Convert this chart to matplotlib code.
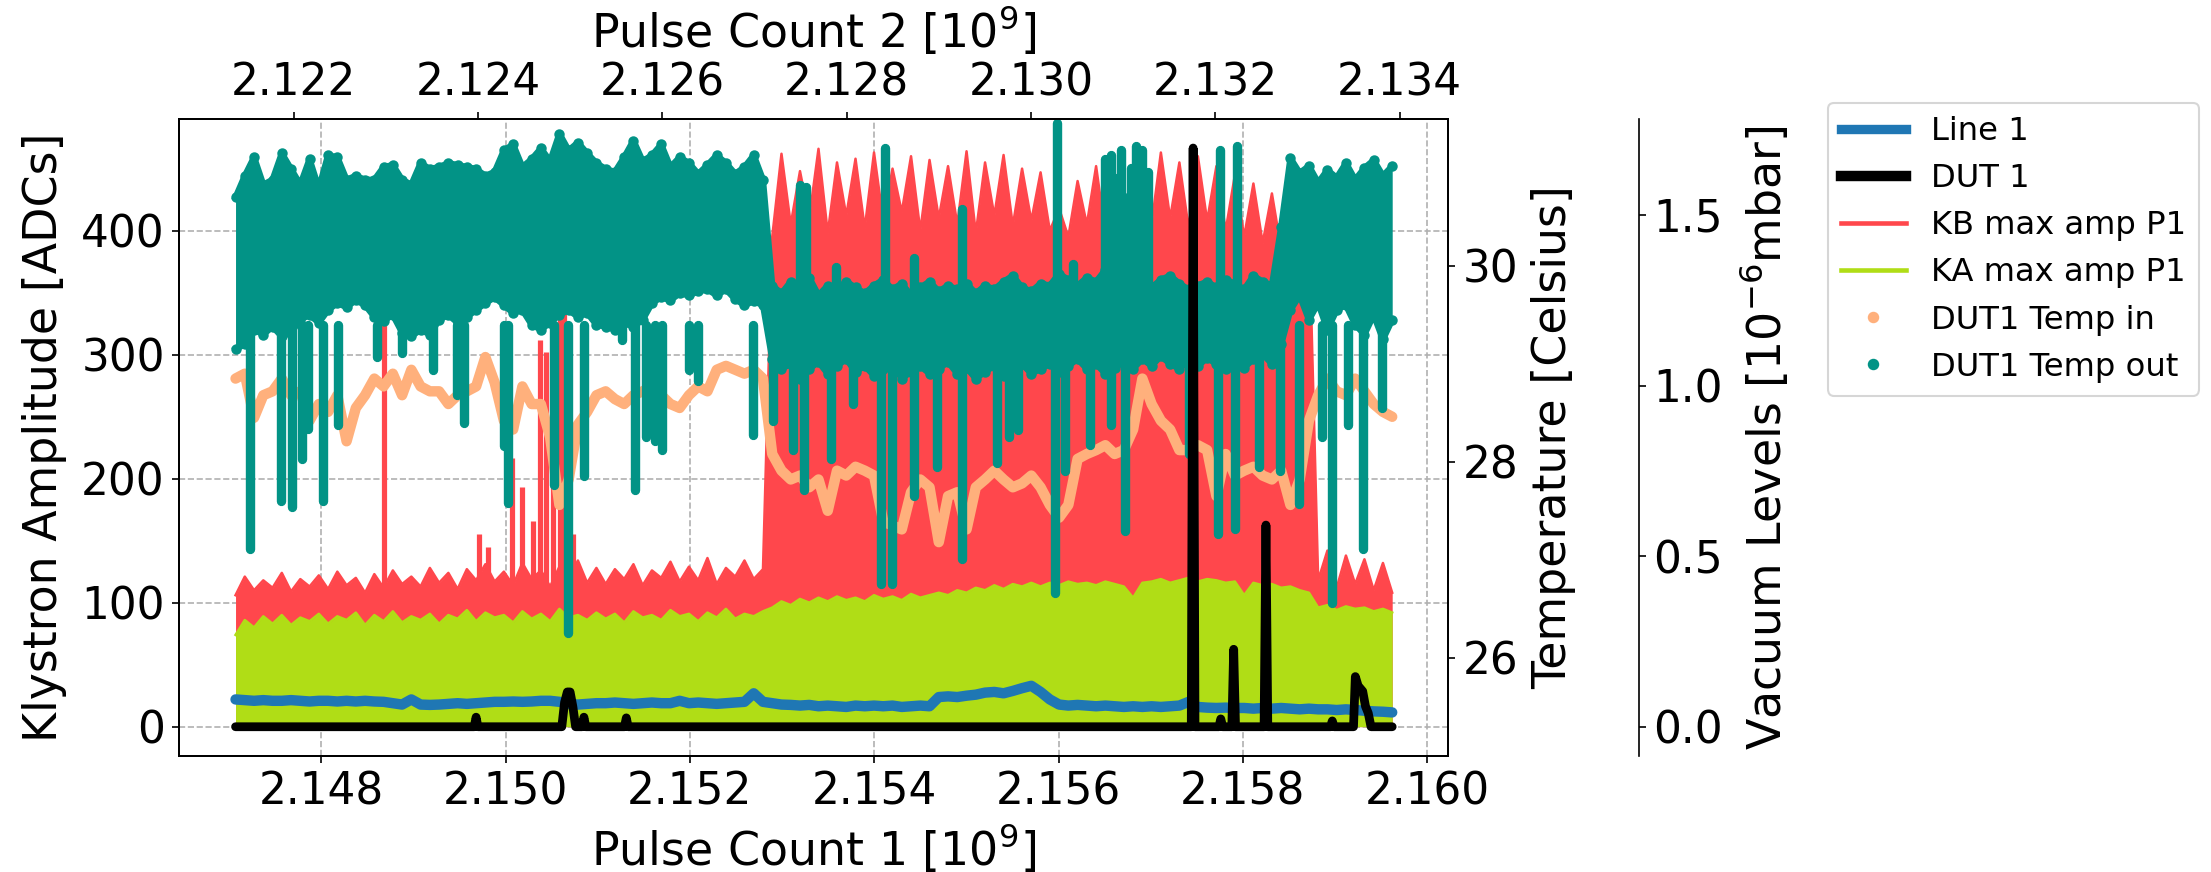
import numpy as np
import matplotlib
matplotlib.use("Agg")
import matplotlib.pyplot as plt
from matplotlib.lines import Line2D
from matplotlib.ticker import MultipleLocator, FormatStrFormatter

# pulse count 1 range of the run [1e9], samples are evenly spread over it
pulse_start, pulse_end = 2.14707, 2.15962
pulse2_offset = 0.0257  # pulse count 2 = pulse count 1 - offset

# KB max amp P1 (upper envelope) [ADCs]
kb_top = [106, 121, 110, 118, 112, 124, 109, 119, 113, 122,
          111, 125, 114, 120, 108, 123, 112, 126, 115, 121,
          113, 128, 116, 124, 111, 127, 118, 131, 117, 125,
          114, 132, 119, 126, 113, 129, 118, 134, 116, 128,
          115, 127, 119, 131, 114, 126, 120, 133, 117, 129,
          118, 136, 115, 128, 121, 134, 119, 127,
          395, 462, 405, 448, 410, 466, 398, 455, 412,
          458, 402, 463, 408, 450, 415, 460, 400, 457, 410,
          452, 405, 464, 398, 455, 412, 461, 404, 450, 408,
          447, 400, 418, 395, 440, 405, 452, 398, 445, 402,
          412, 458, 405, 463, 410, 455, 402, 460, 408, 452,
          400, 445, 395, 438, 390, 430, 385, 420, 375, 405,
          118, 142, 112, 138, 115, 135, 110, 132, 108]
kb_spike_x = [2.148686, 2.149717, 2.149814, 2.150065, 2.150175, 2.150296,
              2.150369, 2.150441, 2.150513, 2.150586, 2.150635, 2.150731]
kb_spike_v = [325, 155, 145, 217, 193, 166, 312, 302, 359, 444, 369, 155]

# KA max amp P1 (upper envelope) [ADCs]
ka_top = [74, 86, 80, 89, 83, 90, 82, 88, 85, 91,
          83, 89, 86, 92, 82, 90, 85, 93, 84, 89,
          86, 91, 83, 90, 87, 94, 85, 92, 88, 90,
          84, 93, 87, 91, 85, 95, 88, 90, 86, 92,
          87, 91, 84, 93, 88, 90, 86, 94, 89, 91,
          85, 92, 88, 95, 87, 91, 89, 93,
          96, 101, 98, 103, 100, 104, 101, 105, 102,
          104, 101, 106, 103, 105, 102, 107, 104, 106, 108,
          106, 110, 108, 112, 110, 114, 111, 115, 113, 116,
          113, 116, 114, 117, 115, 116, 114, 117, 115, 113,
          104, 116, 117, 119, 116, 118, 120, 117, 119, 118,
          116, 117, 106, 116, 114, 115, 112, 113, 110, 108,
          96, 98, 94, 97, 95, 96, 93, 95, 92]

# DUT1 Temp in [Celsius]
temp_in = [28.85, 28.90, 28.45, 28.68, 28.72, 28.85, 28.68, 28.72, 28.42, 28.59,
           28.51, 28.68, 28.21, 28.55, 28.68, 28.85, 28.77, 28.90, 28.68, 28.94,
           28.77, 28.72, 28.72, 28.59, 28.68, 28.72, 28.77, 29.07, 28.81, 28.42,
           28.33, 28.77, 28.59, 28.59, 28.25, 27.56, 27.82, 28.38, 28.51, 28.68,
           28.72, 28.64, 28.59, 28.68, 28.72, 28.77, 28.68, 28.59, 28.55, 28.68,
           28.77, 28.72, 28.94, 28.98, 28.94, 28.90, 28.94, 28.85, 28.08, 27.91,
           27.82, 27.86, 27.74, 27.82, 27.50, 27.91, 27.86, 27.95, 27.91, 27.86,
           27.39, 27.35, 27.31, 27.69, 27.82, 27.74, 27.18, 27.65, 27.69, 27.31,
           27.74, 27.82, 27.91, 27.82, 27.74, 27.78, 27.86, 27.74, 27.56, 27.43,
           27.56, 28.03, 28.08, 28.12, 28.17, 28.08, 28.12, 28.33, 28.85, 28.59,
           28.42, 28.33, 28.12, 28.12, 28.17, 28.12, 27.65, 28.08, 27.86, 27.91,
           27.95, 27.86, 27.82, 27.91, 27.56, 27.82, 28.42, 28.68, 28.85, 28.72,
           28.68, 28.85, 28.72, 28.59, 28.51, 28.46]

# DUT1 Temp out: upper / lower edge of the dense band [Celsius]
temp_out_hi = [30.70, 30.92, 31.11, 30.83, 30.88, 31.15, 30.99, 30.83, 31.09, 30.79,
               31.13, 31.11, 30.88, 30.92, 30.88, 30.88, 31.01, 31.03, 30.88, 30.83,
               31.05, 30.99, 31.01, 31.05, 31.03, 31.01, 30.99, 30.92, 30.96, 31.18,
               31.24, 31.01, 31.09, 31.20, 31.07, 31.35, 31.18, 31.26, 31.15, 31.05,
               30.99, 30.96, 31.11, 31.28, 31.07, 31.13, 31.24, 31.01, 31.11, 31.05,
               30.94, 31.03, 31.13, 31.05, 30.94, 31.01, 31.13, 30.88,
               29.80, 29.72, 29.84, 29.76, 29.88, 29.70, 29.80, 29.76, 29.84, 29.78,
               29.72, 29.80, 29.86, 29.76, 29.82, 29.70, 29.78, 29.84, 29.74, 29.80,
               29.76, 29.82, 29.72, 29.80, 29.76, 29.84, 29.90, 29.78, 29.74, 29.82,
               29.80, 29.92, 29.86, 29.80, 29.88, 29.84, 29.96, 29.90, 29.86, 29.80,
               29.84, 29.78, 29.86, 29.90, 29.82, 29.76, 29.80, 29.84, 29.78, 29.86,
               29.82, 29.76, 29.90, 29.84, 29.80, 30.40,
               31.10, 30.95, 31.02, 30.85, 30.98, 30.90, 31.05, 30.88, 31.00, 31.08, 30.92, 31.02]
temp_out_lo = [29.15, 29.20, 29.35, 29.30, 29.38, 29.28, 29.32, 29.45, 29.50, 29.42,
               29.55, 29.62, 29.58, 29.65, 29.60, 29.48, 29.44, 29.50, 29.32, 29.28,
               29.35, 29.30, 29.45, 29.50, 29.42, 29.48, 29.55, 29.62, 29.68, 29.60,
               29.52, 29.55, 29.40, 29.35, 29.42, 29.50, 29.55, 29.48, 29.52, 29.40,
               29.38, 29.35, 29.42, 29.38, 29.45, 29.62, 29.68, 29.65, 29.72, 29.70,
               29.74, 29.76, 29.70, 29.76, 29.66, 29.60, 29.64, 29.60,
               29.05, 28.95, 29.00, 28.85, 28.95, 29.02, 28.90, 28.98, 29.05, 28.92,
               28.98, 28.88, 28.95, 29.00, 28.85, 28.92, 28.98, 28.90, 28.95, 29.02,
               28.90, 28.96, 28.85, 28.92, 28.98, 28.88, 28.95, 29.00, 28.90, 28.95,
               29.00, 28.92, 28.98, 29.05, 28.95, 29.00, 28.90, 28.96, 29.02, 28.95,
               29.05, 28.98, 29.08, 29.00, 28.95, 29.04, 28.98, 29.06, 29.00, 28.95,
               29.02, 28.96, 29.05, 29.10, 29.00, 29.20,
               29.55, 29.70, 29.45, 29.62, 29.35, 29.55, 29.60, 29.40, 29.30, 29.50, 29.25, 29.45]
# single excursions of DUT1 Temp out out of the band
temp_out_spike_x = [2.147230, 2.147568, 2.147679, 2.147786, 2.147858, 2.148017, 2.148182,
                    2.148607, 2.148872, 2.149210, 2.149475, 2.149548, 2.149983, 2.150031,
                    2.150528, 2.150673, 2.150851, 2.151262, 2.151407, 2.151527, 2.151625,
                    2.151697, 2.151987, 2.152083, 2.152687, 2.152904, 2.153122, 2.153242,
                    2.153532, 2.153773, 2.154077, 2.154190, 2.154436, 2.154683, 2.154951,
                    2.155333, 2.155467, 2.155557, 2.155960, 2.156073, 2.156342, 2.156566,
                    2.156723, 2.157418, 2.157732, 2.157912, 2.158180, 2.158405, 2.158606,
                    2.158853, 2.158965, 2.159145, 2.159302, 2.159504,
                    2.153194, 2.153257, 2.153580, 2.154121, 2.154436, 2.154951, 2.155983,
                    2.156162, 2.156499, 2.156566, 2.156610, 2.156678, 2.156750, 2.156790,
                    2.156835, 2.156902, 2.156969, 2.157755, 2.157933]
temp_out_spike_v = [27.11, 27.60, 27.54, 28.03, 28.34, 27.60, 28.38,
                    29.07, 29.11, 28.94, 28.68, 28.40, 28.16, 27.58,
                    27.76, 26.25, 27.86, 29.24, 27.71, 28.25, 28.21,
                    28.12, 28.94, 28.83, 28.27, 28.42, 28.12, 27.71,
                    28.03, 28.59, 26.75, 26.75, 27.65, 27.95, 27.01,
                    27.99, 28.25, 28.33, 26.66, 27.91, 28.17, 28.38,
                    27.29, 28.08, 27.26, 27.31, 27.95, 27.91, 27.57,
                    28.25, 26.56, 28.38, 27.11, 28.55,
                    30.83, 30.81, 29.99, 31.20, 30.08, 30.58, 31.46,
                    30.02, 31.09, 31.13, 30.90, 31.18, 30.70, 31.00,
                    31.22, 31.18, 30.96, 31.18, 31.22]

# vacuum levels [1e-6 mbar]
line1_vac = [.080, .078, .076, .078, .076, .076, .078, .076, .074, .076,
             .076, .074, .076, .074, .076, .074, .073, .069, .065, .080,
             .065, .064, .065, .067, .069, .067, .069, .071, .073, .073,
             .074, .073, .074, .076, .076, .073, .067, .065, .067, .069,
             .069, .071, .069, .067, .069, .071, .069, .069, .076, .069,
             .071, .069, .067, .069, .071, .073, .098, .073,
             .069, .065, .064, .062, .064, .060, .062, .060, .058, .062,
             .060, .062, .060, .062, .058, .060, .062, .060, .087, .089,
             .087, .091, .094, .100, .102, .098, .105, .113, .120, .102,
             .080, .065, .062, .064, .062, .060, .062, .060, .058, .060,
             .058, .060, .058, .060, .062, .073, .058, .056, .055, .056,
             .055, .055, .053, .055, .053, .055, .053, .051, .053, .051,
             .051, .049, .051, .049, .047, .045, .044, .042]
dut1_x = [2.14707, 2.14966, 2.14968, 2.14970, 2.15061, 2.15064, 2.15067, 2.15070,
          2.15073, 2.15076, 2.15083, 2.15085, 2.15087, 2.15129, 2.15131, 2.15133,
          2.15744, 2.15746, 2.15748, 2.15774, 2.15776, 2.15778, 2.15788, 2.15790,
          2.15792, 2.15823, 2.15825, 2.15827, 2.15895, 2.15897, 2.15899, 2.15920,
          2.15922, 2.15925, 2.15930, 2.15933, 2.15936, 2.15939, 2.15962]
dut1_vac = [0, 0, 0.028, 0, 0, 0.071, 0.102, 0.102,
            0.059, 0, 0, 0.028, 0, 0, 0.026, 0,
            0, 1.696, 0, 0, 0.023, 0, 0, 0.227,
            0, 0, 0.591, 0, 0, 0.017, 0, 0,
            0.147, 0.12, 0.104, 0.06, 0.04, 0, 0]

RED = '#ff474c'
GREEN = '#b0dd16'
PEACH = '#ffb07c'
TEAL = '#029386'
BLUE = '#1f77b4'

x = np.linspace(pulse_start, pulse_end, len(kb_top))

fig, ax = plt.subplots(figsize=(2211 / 150, 872 / 150), dpi=150)
fig.subplots_adjust(left=0.0811, right=0.6551, bottom=0.1334, top=0.8635)
ax_t = ax.twinx()
ax_v = ax.twinx()
ax_v.spines['right'].set_position(('axes', 1.15))
for s in ['top', 'bottom', 'left']:
    ax_v.spines[s].set_visible(False)
ax_top = ax.twiny()

# klystron amplitudes
ax.fill_between(x, 0, kb_top, color=RED, lw=0, zorder=2)
ax.plot(x, kb_top, color=RED, lw=1.2, zorder=2)
ax.vlines(kb_spike_x, 100, kb_spike_v, color=RED, lw=2.5, zorder=2)
ax.fill_between(x, 0, ka_top, color=GREEN, lw=0, zorder=2.1)
ax.plot(x, ka_top, color=GREEN, lw=1.2, zorder=2.1)

# temperatures
ax_t.plot(x, temp_in, color=PEACH, lw=5, solid_joinstyle='round', solid_capstyle='round')
ax_t.fill_between(x, temp_out_lo, temp_out_hi, color=TEAL, lw=0)
ax_t.plot(x, temp_out_hi, color=TEAL, lw=3, marker='o', ms=4)
ax_t.plot(x, temp_out_lo, color=TEAL, lw=3, marker='o', ms=4)
ax_t.vlines(temp_out_spike_x, 29.4, temp_out_spike_v, color=TEAL, lw=4.5, capstyle='round')

# vacuum
ax_v.plot(x, line1_vac, color=BLUE, lw=5, solid_joinstyle='round', solid_capstyle='round')
ax_v.plot(dut1_x, dut1_vac, color='k', lw=4.2, solid_joinstyle='round', solid_capstyle='round')

xlim = (2.14646, 2.16023)
ax.set_xlim(xlim)
ax_top.set_xlim(xlim[0] - pulse2_offset, xlim[1] - pulse2_offset)
ax.set_ylim(-23.4, 490)
ax_t.set_ylim(25.0, 31.5)
ax_v.set_ylim(-0.0848, 1.781)

for a in (ax, ax_top):
    a.xaxis.set_major_locator(MultipleLocator(0.002))
    a.xaxis.set_major_formatter(FormatStrFormatter('%.3f'))
ax.set_yticks([0, 100, 200, 300, 400])
ax_t.set_yticks([26, 28, 30])
ax_v.set_yticks([0, 0.5, 1.0, 1.5])
ax_v.yaxis.set_major_formatter(FormatStrFormatter('%.1f'))
for a in (ax, ax_t, ax_v, ax_top):
    a.tick_params(labelsize=21)

ax.grid(True, linestyle='--', color='#b0b0b0', lw=0.8)

ax.set_xlabel('Pulse Count 1 [$10^9$]', fontsize=22)
ax_top.set_xlabel('Pulse Count 2 [$10^9$]', fontsize=22, labelpad=7)
ax.set_ylabel('Klystron Amplitude [ADCs]', fontsize=22, labelpad=7)
ax_t.set_ylabel('Temperature [Celsius]', fontsize=22, labelpad=6)
ax_v.set_ylabel('Vacuum Levels [$10^{-6}$mbar]', fontsize=22, labelpad=7)

handles = [Line2D([], [], color=BLUE, lw=4.5),
           Line2D([], [], color='k', lw=5),
           Line2D([], [], color=RED, lw=2.2),
           Line2D([], [], color=GREEN, lw=2.2),
           Line2D([], [], color=PEACH, marker='o', ls='', ms=4.5),
           Line2D([], [], color=TEAL, marker='o', ls='', ms=4.5)]
labels = ['Line 1', 'DUT 1', 'KB max amp P1', 'KA max amp P1',
          'DUT1 Temp in', 'DUT1 Temp out']
fig.legend(handles, labels, loc='upper left', bbox_to_anchor=(1828 / 2211, 1 - 103 / 872),
           borderaxespad=0, fontsize=15.5)

fig.savefig('out.png', dpi=150)
